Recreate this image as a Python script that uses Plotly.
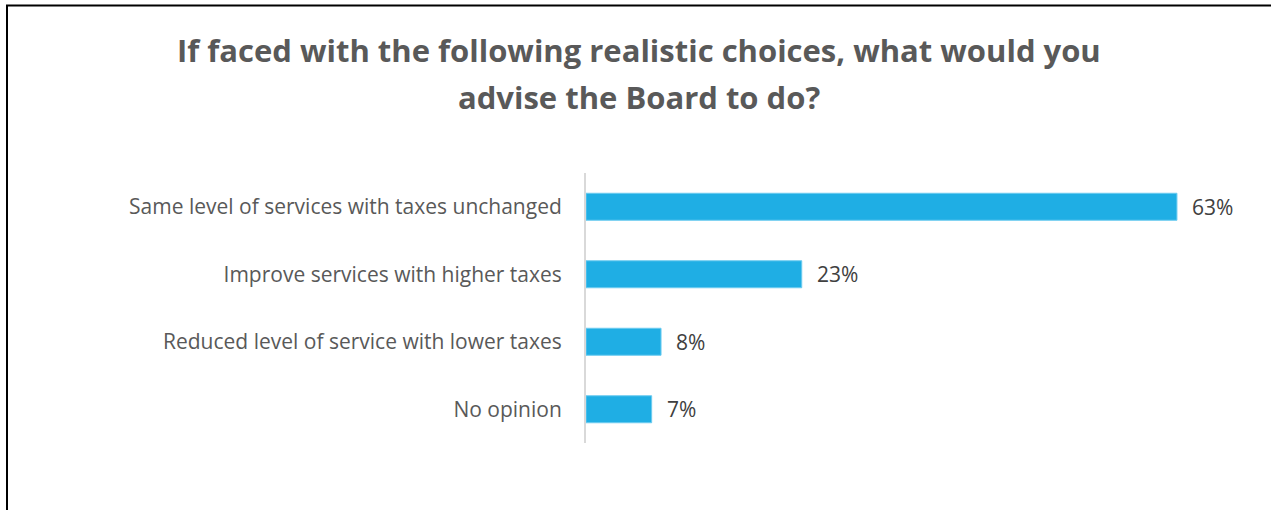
import plotly.graph_objects as go

# Survey responses (share of respondents, %)
categories = [
    "Same level of services with taxes unchanged",
    "Improve services with higher taxes",
    "Reduced level of service with lower taxes",
    "No opinion",
]
values = [63, 23, 8, 7]
value_labels = ["63%", "23%", "8%", "7%"]
title_lines = [
    "If faced with the following realistic choices, what would you",
    "advise the Board to do?",
]

W, H = 1271, 510
L, R, T, B = 586, 28, 173, 67
pw, ph = W - L - R, H - T - B

fig = go.Figure(
    go.Bar(
        x=values,
        y=categories,
        orientation="h",
        marker=dict(color="#1FAEE4", line=dict(color="#6CCBF0", width=1)),
        width=0.4,
        hoverinfo="skip",
    )
)

for v, c, lab in zip(values, categories, value_labels):
    fig.add_annotation(
        x=v, y=c, text=lab, showarrow=False, xanchor="left", xshift=13,
        font=dict(family="Open Sans", size=21, color="#404040"),
    )

# Pixel -> paper coordinate helpers
px = lambda p: (p - L) / pw
py = lambda p: (H - B - p) / ph

# Two-line heading
for line, ypix in zip(title_lines, [50, 97]):
    fig.add_annotation(
        x=px(639), y=py(ypix), xref="paper", yref="paper", text=line,
        showarrow=False, xanchor="center", yanchor="middle",
        font=dict(family="Open Sans", size=31, color="#595959", weight="bold"),
    )

# Frame lines along the left and top edges
fig.add_shape(type="line", xref="paper", yref="paper",
              x0=px(7), x1=px(7), y0=py(H + 5), y1=py(5.5),
              line=dict(color="black", width=2))
fig.add_shape(type="line", xref="paper", yref="paper",
              x0=px(6), x1=px(W + 5), y0=py(5.5), y1=py(5.5),
              line=dict(color="black", width=2))

fig.update_layout(
    width=W, height=H,
    margin=dict(l=L, r=R, t=T, b=B),
    paper_bgcolor="white", plot_bgcolor="white",
    showlegend=False,
    xaxis=dict(range=[0, pw / 9.38], visible=False, showgrid=False, zeroline=False),
    yaxis=dict(
        categoryorder="array", categoryarray=categories, autorange="reversed",
        showline=True, linecolor="#D9D9D9", linewidth=2,
        ticks="", ticklabelstandoff=18, showgrid=False,
        tickfont=dict(family="Open Sans", size=21, color="#595959"),
    ),
)

fig.write_html("out.html")
